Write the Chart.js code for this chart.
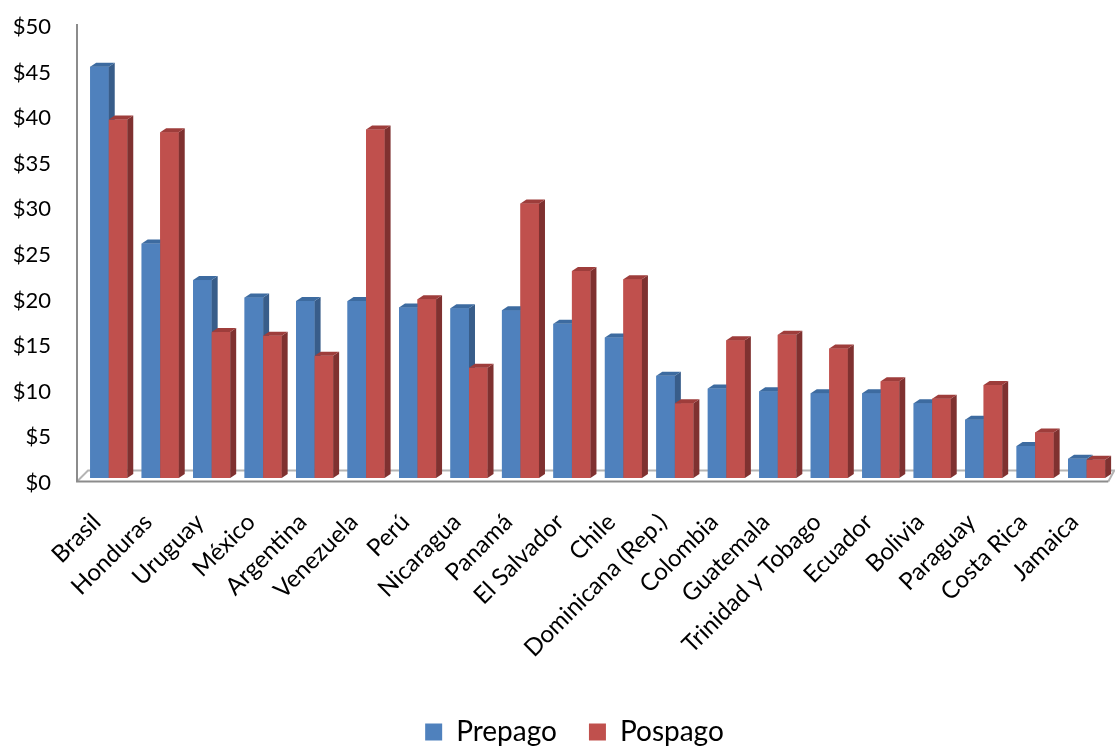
<!DOCTYPE html>
<html>
<head>
<meta charset="utf-8">
<script src="https://cdn.jsdelivr.net/npm/chart.js@4.4.0/dist/chart.umd.min.js"></script>
<style>
  html, body { margin: 0; padding: 0; background: #fff; }
  #wrap { width: 1115px; height: 747px; position: relative; }
</style>
</head>
<body>
<div id="wrap"><canvas id="myChart"></canvas></div>
<script>
'use strict'

const paises = ['Brasil', 'Honduras', 'Uruguay', 'México', 'Argentina', 'Venezuela', 'Perú', 'Nicaragua',
    'Panamá', 'El Salvador', 'Chile', 'Dominicana (Rep.)', 'Colombia', 'Guatemala', 'Trinidad y Tobago',
    'Ecuador', 'Bolivia', 'Paraguay', 'Costa Rica', 'Jamaica'];
const prepago = [45.1, 25.7, 21.7, 19.8, 19.4, 19.4, 18.7, 18.6, 18.4, 16.9, 15.4, 11.2, 9.8, 9.5, 9.3, 9.3, 8.2, 6.4, 3.5, 2.1];
const pospago = [39.3, 37.9, 16.0, 15.6, 13.4, 38.2, 19.6, 12.1, 30.1, 22.7, 21.8, 8.2, 15.1, 15.7, 14.2, 10.6, 8.7, 10.2, 5.0, 2.0];

const FONT = 'Lato';
const DX = 6, DY = 4; // depth of the fake 3d boxes

const colors = [
    { front: '#4f81bd', side: '#385d8a', top: '#3d6ba0' },
    { front: '#c0504d', side: '#7f3130', top: '#9e3d3b' }
];

// floor and left wall edge
const floor = {
    id: 'floor',
    beforeDatasetsDraw(chart) {
        const ctx = chart.ctx;
        const area = chart.chartArea;
        const base = chart.scales.y.getPixelForValue(0);
        const front = base + 3.5, back = base - 7.5;
        ctx.save();
        ctx.strokeStyle = '#b4b4b4';
        ctx.lineWidth = 2;
        ctx.beginPath();
        ctx.moveTo(area.left - 6, front);
        ctx.lineTo(area.left + 5, back);
        ctx.lineTo(area.right + 2, back);
        ctx.lineTo(area.right - 4, front);
        ctx.stroke();
        ctx.strokeStyle = '#8c8c8c';
        ctx.beginPath();
        ctx.moveTo(area.left - 6, area.top + 2);
        ctx.lineTo(area.left - 6, front);
        ctx.lineTo(area.right - 4, front);
        ctx.stroke();
        ctx.restore();
    }
};

// redraw each bar as a box: front, right side and top
const boxes = {
    id: 'boxes',
    afterDatasetsDraw(chart) {
        const ctx = chart.ctx;
        ctx.save();
        for (let i = 0; i < chart.data.labels.length; i++) {
            chart.data.datasets.forEach((ds, d) => {
                const bar = chart.getDatasetMeta(d).data[i];
                const { x, y, base, width } = bar.getProps(['x', 'y', 'base', 'width'], true);
                const l = x - width / 2, r = x + width / 2;
                const c = colors[d];
                ctx.fillStyle = c.front;
                ctx.fillRect(l, y, width, base - y);
                ctx.fillStyle = c.side;
                ctx.beginPath();
                ctx.moveTo(r, y);
                ctx.lineTo(r + DX, y - DY);
                ctx.lineTo(r + DX, base - DY);
                ctx.lineTo(r, base);
                ctx.closePath();
                ctx.fill();
                ctx.fillStyle = c.top;
                ctx.beginPath();
                ctx.moveTo(l, y);
                ctx.lineTo(l + DX, y - DY);
                ctx.lineTo(r + DX, y - DY);
                ctx.lineTo(r, y);
                ctx.closePath();
                ctx.fill();
            });
        }
        ctx.restore();
    }
};

// the legend sits a bit right of the canvas centre
const legendShift = {
    id: 'legendShift',
    afterLayout(chart) {
        chart.legend.left += 18;
        chart.legend.right += 18;
    }
};

let ctx = document.getElementById('myChart').getContext('2d');
new Chart(ctx, {
    type: 'bar',
    data: {
        labels: paises,
        datasets: [{
            label: 'Prepago',
            data: prepago,
            backgroundColor: colors[0].front,
            categoryPercentage: 0.72,
            barPercentage: 1
        }, {
            label: 'Pospago',
            data: pospago,
            backgroundColor: colors[1].front,
            categoryPercentage: 0.72,
            barPercentage: 1
        }]
    },
    options: {
        responsive: true,
        maintainAspectRatio: false,
        animation: false,
        layout: { padding: { left: 0, right: 2, top: 22, bottom: -9 } },
        plugins: {
            tooltip: { enabled: false },
            legend: {
                position: 'bottom',
                labels: {
                    boxWidth: 17,
                    boxHeight: 17,
                    padding: 32,
                    color: '#000',
                    font: { family: FONT, size: 28 }
                }
            }
        },
        scales: {
            x: {
                grid: { display: false, drawTicks: true, tickLength: 22 },
                border: { display: false },
                ticks: {
                    autoSkip: false,
                    maxRotation: 45,
                    minRotation: 45,
                    padding: 8,
                    labelOffset: -12,
                    color: '#000',
                    font: { family: FONT, size: 24 }
                },
                afterFit(scale) { scale.height = 208; }
            },
            y: {
                min: 0,
                max: 50,
                grid: { display: false, drawTicks: true, tickLength: 24 },
                border: { display: false },
                ticks: {
                    stepSize: 5,
                    padding: 8,
                    labelOffset: 5,
                    color: '#000',
                    font: { family: FONT, size: 22 },
                    callback: v => '$' + v
                },
                afterFit(scale) { scale.width = 83; }
            }
        }
    },
    plugins: [floor, boxes, legendShift]
});
</script>
</body>
</html>
